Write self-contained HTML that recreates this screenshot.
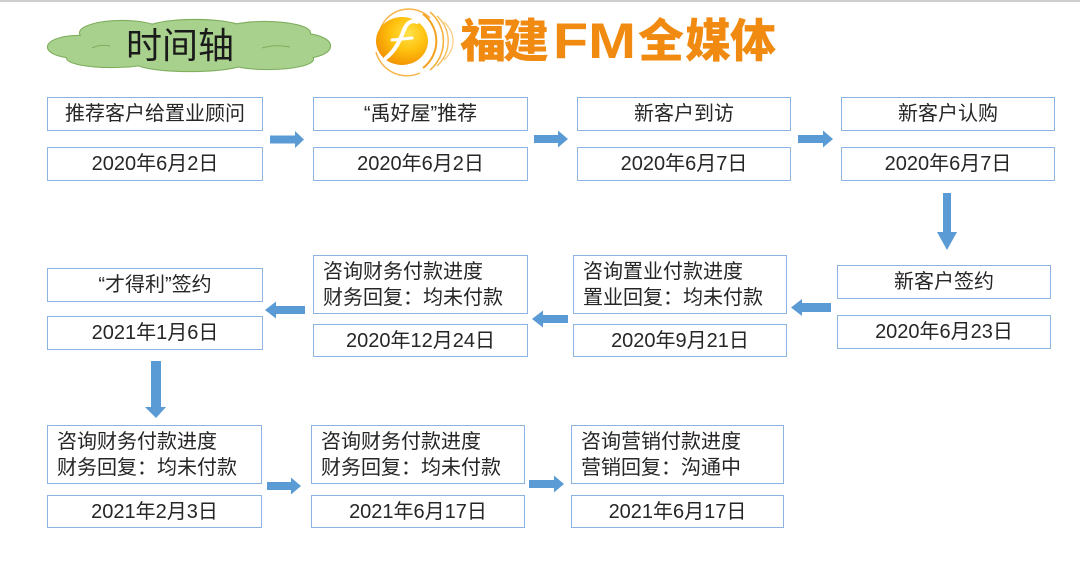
<!DOCTYPE html>
<html><head><meta charset="utf-8">
<style>
html,body{margin:0;padding:0;background:#fff;}
body{width:1080px;height:565px;position:relative;overflow:hidden;font-family:"Liberation Sans","Noto Sans CJK SC",sans-serif;color:#262626;}
.topline{position:absolute;left:0;top:0;width:1080px;height:2px;background:#cfcfcf;}
.b{position:absolute;box-sizing:border-box;border:1px solid #8db3e2;background:#fff;font-size:20px;display:flex;align-items:center;justify-content:center;white-space:nowrap;line-height:24px;}
.m{justify-content:flex-start;padding-left:9px;line-height:26px;display:block;padding-top:3px;}
svg{position:absolute;left:0;top:0;}
</style></head><body>
<div class="topline"></div>

<svg width="1080" height="565" viewBox="0 0 1080 565">
  <defs>
    <radialGradient id="disk" cx="0.62" cy="0.35" r="0.75">
      <stop offset="0" stop-color="#ffe24a"/>
      <stop offset="0.45" stop-color="#ffc20e"/>
      <stop offset="1" stop-color="#f08a00"/>
    </radialGradient>
  </defs>
  <!-- cloud outline -->
  <g fill="#7fae5e" stroke="#7fae5e" stroke-width="2.2">
    <ellipse cx="78" cy="47" rx="30" ry="11"/>
    <ellipse cx="122" cy="33" rx="42" ry="12"/>
    <ellipse cx="195" cy="30" rx="50" ry="10"/>
    <ellipse cx="265" cy="33" rx="45" ry="11"/>
    <ellipse cx="302" cy="46" rx="28" ry="12"/>
    <ellipse cx="268" cy="59" rx="45" ry="10"/>
    <ellipse cx="190" cy="62" rx="55" ry="9"/>
    <ellipse cx="112" cy="58" rx="45" ry="9"/>
    <ellipse cx="190" cy="46" rx="125" ry="17"/>
  </g>
  <g fill="#a9d18e">
    <ellipse cx="78" cy="47" rx="30" ry="11"/>
    <ellipse cx="122" cy="33" rx="42" ry="12"/>
    <ellipse cx="195" cy="30" rx="50" ry="10"/>
    <ellipse cx="265" cy="33" rx="45" ry="11"/>
    <ellipse cx="302" cy="46" rx="28" ry="12"/>
    <ellipse cx="268" cy="59" rx="45" ry="10"/>
    <ellipse cx="190" cy="62" rx="55" ry="9"/>
    <ellipse cx="112" cy="58" rx="45" ry="9"/>
    <ellipse cx="190" cy="46" rx="125" ry="17"/>
  </g>
  <g fill="none" stroke="#7fae5e" stroke-width="1">
    <path d="M92 48 Q100 44 110 46"/>
    <path d="M262 48 Q275 44 290 47"/>
  </g>
  <text x="126" y="58" font-family="'Liberation Sans','Noto Sans CJK SC',sans-serif" font-size="36" fill="#1a1a1a">时间轴</text>

  <!-- logo -->
  <g>
    <path d="M380 30 A30 30 0 0 1 430 18" fill="none" stroke="#f7b54a" stroke-width="1.5"/>
    <path d="M376 52 A32 32 0 0 0 420 73" fill="none" stroke="#f7b54a" stroke-width="1.5"/>
    <ellipse cx="402" cy="41" rx="26" ry="24" fill="url(#disk)"/>
    <path d="M423 14 A34 34 0 0 1 423 68" fill="none" stroke="#f4a21e" stroke-width="2"/>
    <path d="M430 12 A38 38 0 0 1 430 70" fill="none" stroke="#f6b13e" stroke-width="1.6"/>
    <path d="M437 16 A40 36 0 0 1 437 66" fill="none" stroke="#f7bd5a" stroke-width="1.4"/>
    <path d="M444 22 A40 30 0 0 1 444 60" fill="none" stroke="#f9cd7e" stroke-width="1.2"/>
    <path d="M386 58 C396 50 400 40 404 30 C407 22 412 20 417 22" fill="none" stroke="#fff" stroke-width="4" stroke-linecap="round"/>
    <path d="M392 40 L412 38" fill="none" stroke="#fff" stroke-width="3" stroke-linecap="round"/>
  </g>
  <g font-family="'Noto Sans CJK SC','WenQuanYi Zen Hei',sans-serif" font-size="46" font-weight="900" fill="#f08a10">
    <text x="460" y="57">福</text>
    <text x="503" y="57">建</text>
    <text x="638" y="57">全</text>
    <text x="685" y="57">媒</text>
    <text x="730" y="57">体</text>
  </g>
  <text x="553" y="58" font-family="'Liberation Sans',sans-serif" font-size="50" font-weight="bold" fill="#f08a10" textLength="83" lengthAdjust="spacingAndGlyphs">FM</text>

  <!-- arrows -->
  <g fill="#5b9bd5">
    <!-- row1 right -->
    <polygon points="270,135.5 295,135.5 295,131 304,139.5 295,148 295,143.5 270,143.5"/>
    <polygon points="534,135 558,135 558,130.5 568,139 558,147.5 558,143 534,143"/>
    <polygon points="798,135 823,135 823,130.5 833,139 823,147.5 823,143 798,143"/>
    <!-- down right -->
    <polygon points="943,193 951,193 951,232 957,232 947,250 937,232 943,232"/>
    <!-- row2 left -->
    <polygon points="831,303 802,303 802,299 791,307.5 802,316 802,312 831,312"/>
    <polygon points="568,315 543,315 543,310.5 532,319 543,327.5 543,323 568,323"/>
    <polygon points="305,306 276,306 276,301.5 265,310 276,318.5 276,314 305,314"/>
    <!-- down left -->
    <polygon points="151,361 161,361 161,407 166,407 156,418 145,407 151,407"/>
    <!-- row3 right -->
    <polygon points="267,482 291,482 291,477.5 301,486 291,494.5 291,490 267,490"/>
    <polygon points="529,480 554,480 554,475.5 564,484 554,492.5 554,488 529,488"/>
  </g>
</svg>

<!-- Row 1 -->
<div class="b" style="left:47px;top:97px;width:216px;height:34px;">推荐客户给置业顾问</div>
<div class="b" style="left:47px;top:147px;width:216px;height:34px;">2020年6月2日</div>
<div class="b" style="left:313px;top:97px;width:215px;height:34px;">“禹好屋”推荐</div>
<div class="b" style="left:313px;top:147px;width:215px;height:34px;">2020年6月2日</div>
<div class="b" style="left:577px;top:97px;width:214px;height:34px;">新客户到访</div>
<div class="b" style="left:577px;top:147px;width:214px;height:34px;">2020年6月7日</div>
<div class="b" style="left:841px;top:97px;width:214px;height:34px;">新客户认购</div>
<div class="b" style="left:841px;top:147px;width:214px;height:34px;">2020年6月7日</div>

<!-- Row 2 -->
<div class="b" style="left:47px;top:268px;width:216px;height:34px;">“才得利”签约</div>
<div class="b" style="left:47px;top:316px;width:216px;height:34px;">2021年1月6日</div>
<div class="b m" style="left:313px;top:255px;width:215px;height:59px;">咨询财务付款进度<br>财务回复：均未付款</div>
<div class="b" style="left:313px;top:324px;width:215px;height:33px;">2020年12月24日</div>
<div class="b m" style="left:573px;top:255px;width:214px;height:59px;">咨询置业付款进度<br>置业回复：均未付款</div>
<div class="b" style="left:573px;top:324px;width:214px;height:33px;">2020年9月21日</div>
<div class="b" style="left:837px;top:265px;width:214px;height:34px;">新客户签约</div>
<div class="b" style="left:837px;top:315px;width:214px;height:34px;">2020年6月23日</div>

<!-- Row 3 -->
<div class="b m" style="left:47px;top:425px;width:215px;height:59px;">咨询财务付款进度<br>财务回复：均未付款</div>
<div class="b" style="left:47px;top:495px;width:215px;height:33px;">2021年2月3日</div>
<div class="b m" style="left:311px;top:425px;width:214px;height:59px;">咨询财务付款进度<br>财务回复：均未付款</div>
<div class="b" style="left:311px;top:495px;width:214px;height:33px;">2021年6月17日</div>
<div class="b m" style="left:571px;top:425px;width:213px;height:59px;">咨询营销付款进度<br>营销回复：沟通中</div>
<div class="b" style="left:571px;top:495px;width:213px;height:33px;">2021年6月17日</div>
</body></html>
